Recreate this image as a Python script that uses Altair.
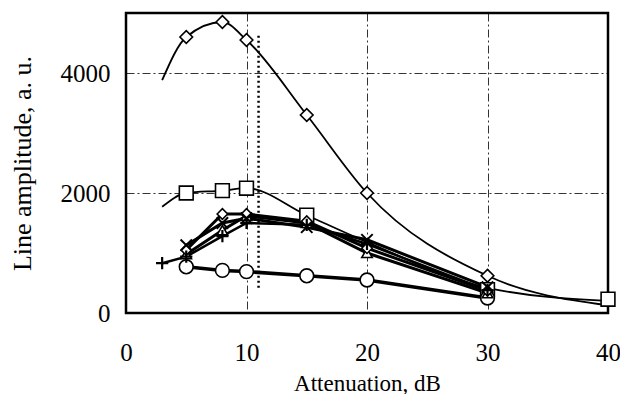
import altair as alt
import pandas as pd

# Diamond series (smooth curve)
dia_x = [5, 8, 10, 15, 20, 30]
dia_y = [4600, 4850, 4550, 3300, 2000, 620]
dia_curve_x = [3, 5, 8, 10, 15, 20, 30, 40]
dia_curve_y = [3880, 4600, 4850, 4550, 3300, 2000, 620, 130]

# Square series (smooth curve)
sq_x = [5, 8, 10, 15, 30, 40]
sq_y = [2000, 2040, 2080, 1630, 390, 230]
sq_curve_x = [3, 5, 8, 10, 15, 20, 30, 40]
sq_curve_y = [1770, 2000, 2040, 2080, 1630, 1180, 420, 200]

# Circle series
ci_x = [5, 8, 10, 15, 20, 30]
ci_y = [770, 710, 690, 620, 550, 250]

# Plus series
pl_x = [3, 5, 8, 10, 15, 20, 30]
pl_y = [830, 940, 1280, 1500, 1470, 1150, 380]

# X-cross series
xc_x = [5, 8, 10, 15, 20, 30]
xc_y = [1130, 1500, 1580, 1430, 1220, 430]

# Triangle series
tr_x = [5, 8, 10, 15, 20, 30]
tr_y = [980, 1380, 1620, 1500, 1000, 330]

# Small diamond series
sd_x = [5, 8, 10, 15, 20, 30]
sd_y = [1050, 1650, 1650, 1530, 1080, 370]

# dotted marker line
dot_x = [11]
dot_y1 = [420]
dot_y2 = [4650]

x_ticks = [0, 10, 20, 30, 40]
y_ticks = [0, 2000, 4000]

FONT = "Liberation Serif"

xs = alt.Scale(domain=[0, 40], nice=False)
ys = alt.Scale(domain=[0, 5000], nice=False)

xax = alt.Axis(values=x_ticks, title="Attenuation, dB", grid=True, labelPadding=27,
               titlePadding=7, tickSize=0, domain=False, format="d", labelFlush=False,
               titleFontSize=23)
yax = alt.Axis(values=y_ticks, title="Line amplitude, a. u.", grid=True, labelPadding=16,
               titlePadding=25, tickSize=0, domain=False, format="d", titleFontSize=26)


def df(xv, yv):
    return pd.DataFrame({"x": xv, "y": yv})


def line(xv, yv, width, interp="linear"):
    return alt.Chart(df(xv, yv)).mark_line(color="black", strokeWidth=width, interpolate=interp,
                                           clip=False).encode(
        x=alt.X("x:Q", scale=xs, axis=xax), y=alt.Y("y:Q", scale=ys, axis=yax))


def pts(xv, yv, shape, size, sw=1.6, filled=True):
    kw = dict(shape=shape, size=size, stroke="black", strokeWidth=sw, clip=False, opacity=1)
    if filled:
        kw.update(filled=True, fill="white")
    else:
        kw.update(filled=False)
    return alt.Chart(df(xv, yv)).mark_point(**kw).encode(
        x=alt.X("x:Q", scale=xs, axis=xax), y=alt.Y("y:Q", scale=ys, axis=yax))


plus_path = "M-1,0L1,0M0,-1L0,1"
x_path = "M-1,-1L1,1M1,-1L-1,1"

dotted = alt.Chart(pd.DataFrame({"x": dot_x, "y": dot_y1, "y2": dot_y2})).mark_rule(
    color="black", strokeWidth=2.5, strokeDash=[2, 3]).encode(
    x=alt.X("x:Q", scale=xs, axis=xax), y=alt.Y("y:Q", scale=ys, axis=yax), y2="y2:Q")

layers = [
    dotted,
    line(dia_curve_x, dia_curve_y, 1.8, "monotone"),
    line(sq_curve_x, sq_curve_y, 1.8, "monotone"),
    line(ci_x, ci_y, 3.5),
    line(pl_x, pl_y, 2.5),
    line(xc_x, xc_y, 3),
    line(tr_x, tr_y, 3),
    line(sd_x, sd_y, 3),
    pts(dia_x, dia_y, "diamond", 160),
    pts(sq_x, sq_y, "square", 190),
    pts(ci_x, ci_y, "circle", 190),
    pts(tr_x, tr_y, "triangle-up", 110),
    pts(sd_x, sd_y, "diamond", 110),
    pts(pl_x, pl_y, plus_path, 150, sw=2.2, filled=False),
    pts(xc_x, xc_y, x_path, 130, sw=2, filled=False),
]

chart = alt.layer(*layers).properties(
    width=482, height=300,
    background="white",
    autosize=alt.AutoSizeParams(type="none"),
    padding={"left": 118, "top": 5, "right": 12, "bottom": 81},
).configure_view(stroke="black", strokeWidth=2.5).configure_axis(
    labelFont=FONT, titleFont=FONT, labelFontSize=25,
    labelColor="black", titleColor="black", titleFontWeight="normal",
    gridColor="black", gridDash=[8, 3, 2, 3], gridWidth=1, gridOpacity=0.8,
)

chart.save("out.html", embed_options={"renderer": "svg", "actions": False})
